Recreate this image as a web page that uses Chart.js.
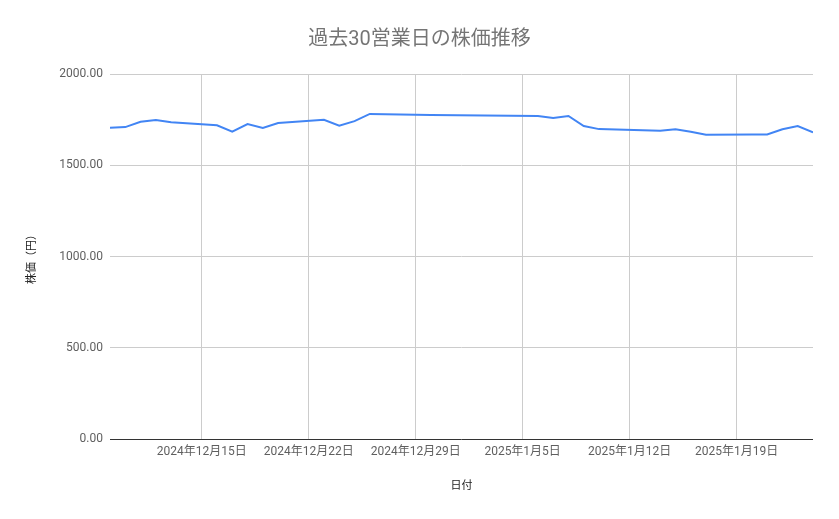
<!DOCTYPE html>
<html>
<head>
<meta charset="utf-8">
<script src="https://cdn.jsdelivr.net/npm/chart.js@4"></script>
<style>
  html, body { margin: 0; padding: 0; background: #fff; }
  #wrap { width: 839px; height: 519px; }
</style>
</head>
<body>
<div id="wrap"><canvas id="myChart"></canvas></div>
<script>
const DATES = [
    "2024-12-09", "2024-12-10", "2024-12-11", "2024-12-12", "2024-12-13",
    "2024-12-16", "2024-12-17", "2024-12-18", "2024-12-19", "2024-12-20",
    "2024-12-23", "2024-12-24", "2024-12-25", "2024-12-26", "2024-12-27",
    "2024-12-30", "2025-01-06", "2025-01-07", "2025-01-08", "2025-01-09",
    "2025-01-10", "2025-01-14", "2025-01-15", "2025-01-16", "2025-01-17",
    "2025-01-20", "2025-01-21", "2025-01-22", "2025-01-23", "2025-01-24"
];
const PRICES = [
    1706, 1709, 1738, 1748, 1735,
    1719, 1684, 1726, 1704, 1731,
    1749, 1717, 1742, 1781, 1780,
    1776, 1770, 1759, 1770, 1715,
    1698, 1689, 1697, 1684, 1667,
    1668, 1669, 1697, 1715, 1680
];
const X_START = "2024-12-09";
const X_END = "2025-01-24";
const TICK_DATES = ["2024-12-15", "2024-12-22", "2024-12-29", "2025-01-05", "2025-01-12", "2025-01-19"];
const Y_TICKS = [0, 500, 1000, 1500, 2000];

const DAY = 86400000;
function toMs(s) {
    const p = s.split('-').map(Number);
    return Date.UTC(p[0], p[1] - 1, p[2]);
}
const t0 = toMs(X_START);
const dayOf = s => (toMs(s) - t0) / DAY;
function fmt(v) {
    const d = new Date(t0 + v * DAY);
    return d.getUTCFullYear() + '年' + (d.getUTCMonth() + 1) + '月' + d.getUTCDate() + '日';
}

const FONT = "Roboto, 'Noto Sans CJK JP', sans-serif";
const ctx = document.querySelector('#myChart');

new Chart(ctx, {
    type: 'line',
    data: {
        datasets: [{
            data: DATES.map((d, i) => ({ x: dayOf(d), y: PRICES[i] })),
            borderColor: '#4285F4',
            borderWidth: 2,
            pointRadius: 0,
            tension: 0
        }]
    },
    options: {
        responsive: true,
        maintainAspectRatio: false,
        animation: false,
        layout: { padding: 0 },
        plugins: {
            legend: { display: false },
            tooltip: { enabled: false },
            title: {
                display: true,
                text: '過去30営業日の株価推移',
                color: '#757575',
                font: { family: FONT, size: 20, weight: 'normal' },
                padding: { top: 28, bottom: 22 }
            }
        },
        scales: {
            x: {
                type: 'linear',
                min: dayOf(X_START),
                max: dayOf(X_END),
                afterBuildTicks: s => { s.ticks = TICK_DATES.map(d => ({ value: dayOf(d) })); },
                afterFit: s => { s.height = 80; },
                border: { display: false },
                grid: { color: '#cccccc', drawTicks: false },
                ticks: {
                    color: '#5f5f5f',
                    padding: 6,
                    maxRotation: 0,
                    font: { family: FONT, size: 12 },
                    callback: v => fmt(v)
                },
                title: {
                    display: true,
                    text: '日付',
                    color: '#222222',
                    font: { family: FONT, size: 11 },
                    padding: { top: 4, bottom: 26 }
                }
            },
            y: {
                min: 0,
                max: 2000,
                afterBuildTicks: s => { s.ticks = Y_TICKS.map(v => ({ value: v })); },
                afterFit: s => { s.width = 110; },
                border: { display: false },
                grid: {
                    drawTicks: false,
                    color: c => (c.tick && c.tick.value === 0) ? '#333333' : '#cccccc'
                },
                ticks: {
                    color: '#5f5f5f',
                    padding: 7,
                    font: { family: FONT, size: 12 },
                    callback: v => v.toFixed(2)
                },
                title: {
                    display: true,
                    text: '株価（円）',
                    color: '#222222',
                    font: { family: FONT, size: 11 },
                    padding: { top: 26, bottom: 4 }
                }
            },
            // empty right gutter so the title stays centred on the whole canvas
            yRight: {
                position: 'right',
                display: true,
                afterFit: s => { s.width = 26; },
                border: { display: false },
                grid: { display: false },
                ticks: { display: false }
            }
        }
    }
});
</script>
</body>
</html>
